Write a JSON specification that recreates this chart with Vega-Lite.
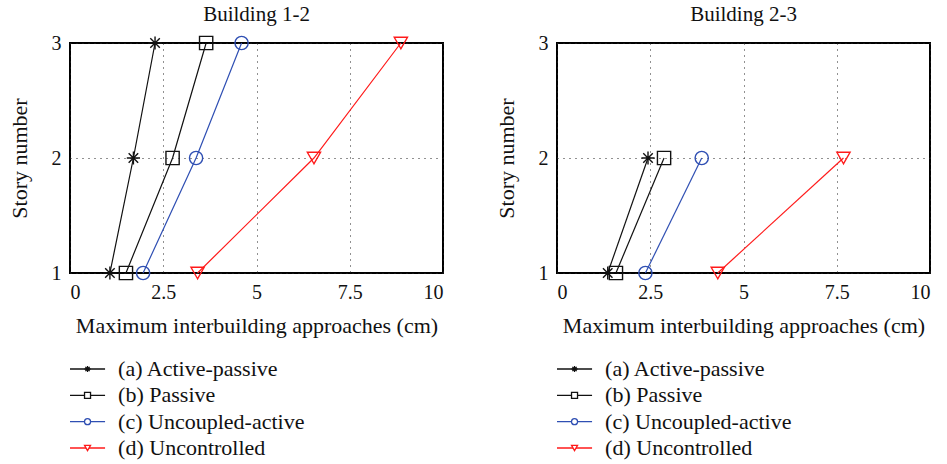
{
  "$schema": "https://vega.github.io/schema/vega-lite/v6.json",
  "background": "white",
  "padding": {"left": 7, "top": 3, "right": 5, "bottom": 5},
  "config": {
    "font": "Liberation Serif",
    "view": {"stroke": "black", "strokeWidth": 2},
    "title": {"font": "Liberation Serif", "fontSize": 21, "fontWeight": "normal", "color": "#111", "offset": 8},
    "axis": {
      "labelFont": "Liberation Serif", "titleFont": "Liberation Serif",
      "labelFontSize": 20, "titleFontSize": 22, "titleFontWeight": "normal",
      "labelColor": "#111", "titleColor": "#111",
      "domain": false, "ticks": false,
      "grid": true, "gridColor": "#222", "gridDash": [1, 5], "gridWidth": 1, "gridOpacity": 1
    },
    "concat": {"spacing": 50}
  },
  "datasets": {
    "approaches": [
      {"building": "Building 1-2", "series": "(a) Active-passive", "story": 1, "value": 1.07},
      {"building": "Building 1-2", "series": "(a) Active-passive", "story": 2, "value": 1.70},
      {"building": "Building 1-2", "series": "(a) Active-passive", "story": 3, "value": 2.28},
      {"building": "Building 1-2", "series": "(b) Passive", "story": 1, "value": 1.50},
      {"building": "Building 1-2", "series": "(b) Passive", "story": 2, "value": 2.75},
      {"building": "Building 1-2", "series": "(b) Passive", "story": 3, "value": 3.65},
      {"building": "Building 1-2", "series": "(c) Uncoupled-active", "story": 1, "value": 1.96},
      {"building": "Building 1-2", "series": "(c) Uncoupled-active", "story": 2, "value": 3.38},
      {"building": "Building 1-2", "series": "(c) Uncoupled-active", "story": 3, "value": 4.60},
      {"building": "Building 1-2", "series": "(d) Uncontrolled", "story": 1, "value": 3.42},
      {"building": "Building 1-2", "series": "(d) Uncontrolled", "story": 2, "value": 6.54},
      {"building": "Building 1-2", "series": "(d) Uncontrolled", "story": 3, "value": 8.87},
      {"building": "Building 2-3", "series": "(a) Active-passive", "story": 1, "value": 1.36},
      {"building": "Building 2-3", "series": "(a) Active-passive", "story": 2, "value": 2.44},
      {"building": "Building 2-3", "series": "(b) Passive", "story": 1, "value": 1.58},
      {"building": "Building 2-3", "series": "(b) Passive", "story": 2, "value": 2.87},
      {"building": "Building 2-3", "series": "(c) Uncoupled-active", "story": 1, "value": 2.37},
      {"building": "Building 2-3", "series": "(c) Uncoupled-active", "story": 2, "value": 3.88},
      {"building": "Building 2-3", "series": "(d) Uncontrolled", "story": 1, "value": 4.31},
      {"building": "Building 2-3", "series": "(d) Uncontrolled", "story": 2, "value": 7.68}
    ],
    "legendRows": [
      {"row": 0, "series": "(a) Active-passive"},
      {"row": 1, "series": "(b) Passive"},
      {"row": 2, "series": "(c) Uncoupled-active"},
      {"row": 3, "series": "(d) Uncontrolled"}
    ]
  },
  "hconcat": [
    {
      "vconcat": [
        {
          "title": "Building 1-2",
          "width": 373, "height": 230,
          "data": {"name": "approaches"},
          "transform": [{"filter": "datum.building === 'Building 1-2'"}],
          "encoding": {
            "x": {"field": "value", "type": "quantitative", "scale": {"domain": [0, 10], "nice": false, "zero": false},
                  "axis": {"title": "Maximum interbuilding approaches (cm)", "values": [0, 2.5, 5, 7.5, 10], "labelExpr": "'' + datum.value", "labelPadding": 9, "titlePadding": 13}},
            "y": {"field": "story", "type": "quantitative", "scale": {"domain": [1, 3], "nice": false, "zero": false},
                  "axis": {"title": "Story number", "values": [1, 2, 3], "labelExpr": "'' + datum.value", "labelOverlap": false, "labelPadding": 9, "titlePadding": 20}},
            "color": {"field": "series", "type": "nominal", "legend": null,
                      "scale": {"domain": ["(a) Active-passive", "(b) Passive", "(c) Uncoupled-active", "(d) Uncontrolled"], "range": ["#111111", "#111111", "#2f4fb3", "#ff1a1a"]}},
            "detail": {"field": "series"}
          },
          "layer": [
            {"mark": {"type": "line", "strokeWidth": 1.2}, "encoding": {"order": {"field": "story"}}},
            {"mark": {"type": "point", "filled": false, "strokeWidth": 1.4, "opacity": 1, "size": 175},
             "encoding": {"shape": {"field": "series", "type": "nominal", "legend": null,
               "scale": {"domain": ["(a) Active-passive", "(b) Passive", "(c) Uncoupled-active", "(d) Uncontrolled"],
                         "range": ["M0,-1L0,1M-1,0L1,0M-0.72,-0.72L0.72,0.72M-0.72,0.72L0.72,-0.72", "square", "circle", "triangle-down"]}}}}
          ]
        },
        {
          "width": 373, "height": 79,
          "view": {"stroke": null},
          "data": {"name": "legendRows"},
          "encoding": {
            "y": {"field": "row", "type": "quantitative", "scale": {"domain": [0, 3], "reverse": true, "nice": false}, "axis": null}
          },
          "layer": [
            {"mark": {"type": "rule", "strokeWidth": 1.3},
             "encoding": {"x": {"datum": 0, "type": "quantitative", "scale": {"domain": [0, 10], "nice": false}, "axis": null}, "x2": {"datum": 0.94},
               "color": {"field": "series", "type": "nominal", "legend": null,
                 "scale": {"domain": ["(a) Active-passive", "(b) Passive", "(c) Uncoupled-active", "(d) Uncontrolled"], "range": ["#111111", "#111111", "#2f4fb3", "#ff1a1a"]}}}},
            {"mark": {"type": "point", "filled": true, "strokeWidth": 1.3, "opacity": 1, "size": 36},
             "encoding": {"x": {"datum": 0.47, "type": "quantitative"},
               "stroke": {"field": "series", "type": "nominal", "legend": null,
                 "scale": {"domain": ["(a) Active-passive", "(b) Passive", "(c) Uncoupled-active", "(d) Uncontrolled"], "range": ["#111111", "#111111", "#2f4fb3", "#ff1a1a"]}},
               "fill": {"field": "series", "type": "nominal", "legend": null,
                 "scale": {"domain": ["(a) Active-passive", "(b) Passive", "(c) Uncoupled-active", "(d) Uncontrolled"], "range": ["#111111", "#ffffff", "#ffffff", "#ffffff"]}},
               "shape": {"field": "series", "type": "nominal", "legend": null,
                 "scale": {"domain": ["(a) Active-passive", "(b) Passive", "(c) Uncoupled-active", "(d) Uncontrolled"],
                           "range": ["circle", "square", "circle", "triangle-down"]}}}},
            {"mark": {"type": "text", "align": "left", "baseline": "middle", "fontSize": 22, "color": "#111", "font": "Liberation Serif"},
             "encoding": {"x": {"datum": 1.29, "type": "quantitative"}, "text": {"field": "series"}}}
          ]
        }
      ],
      "spacing": 21
    },
    {
      "vconcat": [
        {
          "title": "Building 2-3",
          "width": 373, "height": 230,
          "data": {"name": "approaches"},
          "transform": [{"filter": "datum.building === 'Building 2-3'"}],
          "encoding": {
            "x": {"field": "value", "type": "quantitative", "scale": {"domain": [0, 10], "nice": false, "zero": false},
                  "axis": {"title": "Maximum interbuilding approaches (cm)", "values": [0, 2.5, 5, 7.5, 10], "labelExpr": "'' + datum.value", "labelPadding": 9, "titlePadding": 13}},
            "y": {"field": "story", "type": "quantitative", "scale": {"domain": [1, 3], "nice": false, "zero": false},
                  "axis": {"title": "Story number", "values": [1, 2, 3], "labelExpr": "'' + datum.value", "labelOverlap": false, "labelPadding": 9, "titlePadding": 20}},
            "color": {"field": "series", "type": "nominal", "legend": null,
                      "scale": {"domain": ["(a) Active-passive", "(b) Passive", "(c) Uncoupled-active", "(d) Uncontrolled"], "range": ["#111111", "#111111", "#2f4fb3", "#ff1a1a"]}},
            "detail": {"field": "series"}
          },
          "layer": [
            {"mark": {"type": "line", "strokeWidth": 1.2}, "encoding": {"order": {"field": "story"}}},
            {"mark": {"type": "point", "filled": false, "strokeWidth": 1.4, "opacity": 1, "size": 175},
             "encoding": {"shape": {"field": "series", "type": "nominal", "legend": null,
               "scale": {"domain": ["(a) Active-passive", "(b) Passive", "(c) Uncoupled-active", "(d) Uncontrolled"],
                         "range": ["M0,-1L0,1M-1,0L1,0M-0.72,-0.72L0.72,0.72M-0.72,0.72L0.72,-0.72", "square", "circle", "triangle-down"]}}}}
          ]
        },
        {
          "width": 373, "height": 79,
          "view": {"stroke": null},
          "data": {"name": "legendRows"},
          "encoding": {
            "y": {"field": "row", "type": "quantitative", "scale": {"domain": [0, 3], "reverse": true, "nice": false}, "axis": null}
          },
          "layer": [
            {"mark": {"type": "rule", "strokeWidth": 1.3},
             "encoding": {"x": {"datum": 0, "type": "quantitative", "scale": {"domain": [0, 10], "nice": false}, "axis": null}, "x2": {"datum": 0.94},
               "color": {"field": "series", "type": "nominal", "legend": null,
                 "scale": {"domain": ["(a) Active-passive", "(b) Passive", "(c) Uncoupled-active", "(d) Uncontrolled"], "range": ["#111111", "#111111", "#2f4fb3", "#ff1a1a"]}}}},
            {"mark": {"type": "point", "filled": true, "strokeWidth": 1.3, "opacity": 1, "size": 36},
             "encoding": {"x": {"datum": 0.47, "type": "quantitative"},
               "stroke": {"field": "series", "type": "nominal", "legend": null,
                 "scale": {"domain": ["(a) Active-passive", "(b) Passive", "(c) Uncoupled-active", "(d) Uncontrolled"], "range": ["#111111", "#111111", "#2f4fb3", "#ff1a1a"]}},
               "fill": {"field": "series", "type": "nominal", "legend": null,
                 "scale": {"domain": ["(a) Active-passive", "(b) Passive", "(c) Uncoupled-active", "(d) Uncontrolled"], "range": ["#111111", "#ffffff", "#ffffff", "#ffffff"]}},
               "shape": {"field": "series", "type": "nominal", "legend": null,
                 "scale": {"domain": ["(a) Active-passive", "(b) Passive", "(c) Uncoupled-active", "(d) Uncontrolled"],
                           "range": ["circle", "square", "circle", "triangle-down"]}}}},
            {"mark": {"type": "text", "align": "left", "baseline": "middle", "fontSize": 22, "color": "#111", "font": "Liberation Serif"},
             "encoding": {"x": {"datum": 1.29, "type": "quantitative"}, "text": {"field": "series"}}}
          ]
        }
      ],
      "spacing": 21
    }
  ]
}
